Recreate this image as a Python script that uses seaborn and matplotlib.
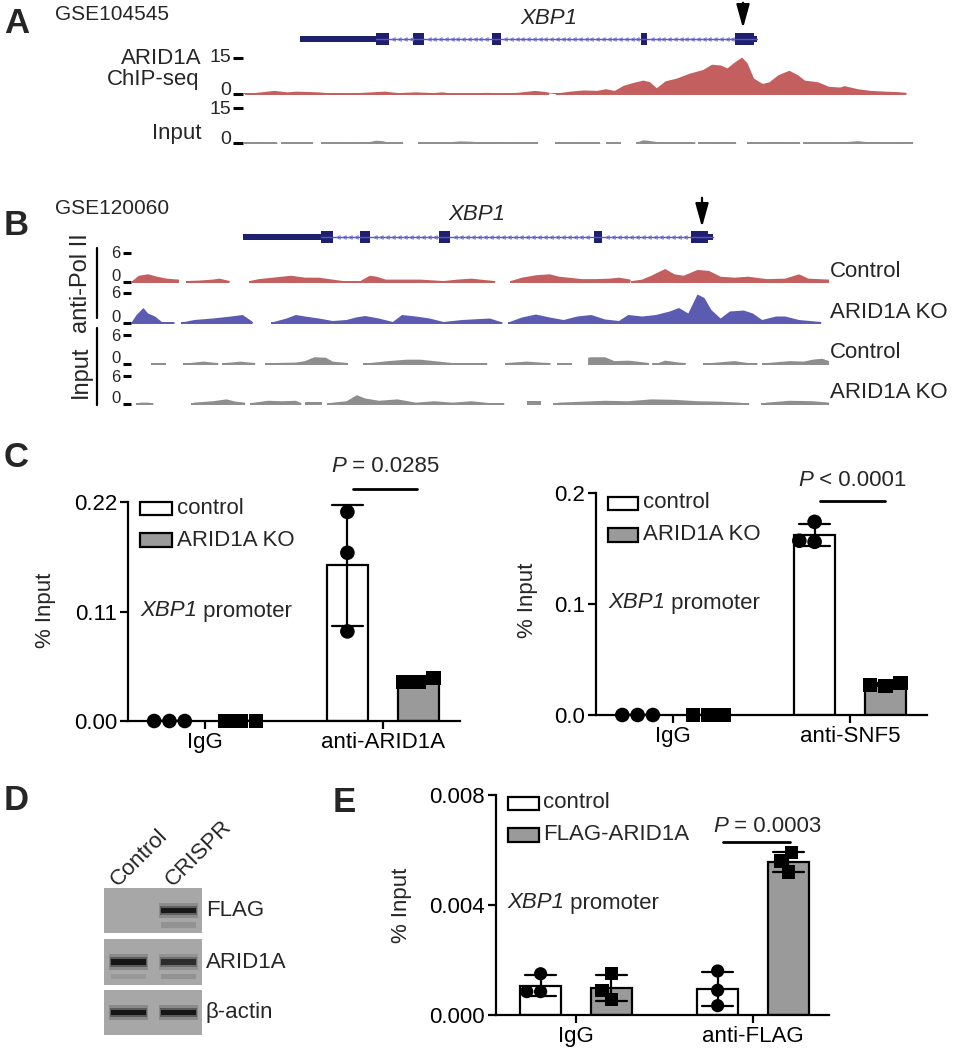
import numpy as np
import pandas as pd
import matplotlib
matplotlib.use("Agg")
import matplotlib.pyplot as plt
from matplotlib.patches import Rectangle, FancyArrowPatch
from matplotlib.lines import Line2D
import seaborn as sns

# ---------------- data ----------------
# Panel A (GSE104545): coverage segments (position along locus window, signal)
chip_a_segments = [
    ([35,60,100,130,150,200,230,260,300,350,380,420,460,480,500,540,580,620,650,690,715,722],
     [0,0.7,1.5,0.9,1.2,0.9,0.4,0.4,0.7,1.2,0.6,0.9,0.6,0.9,0.4,0.3,0.7,0.4,0.7,1.5,1.0,0.7]),
    ([737,770,800,830,850,870,890,910,935,950,965,985,1010,1040,1070,1090,1110,1125,1140,1158,
      1170,1185,1205,1220,1240,1265,1285,1300,1330,1355,1380,1390,1420,1450,1480,1510,1530],
     [0.4,1.2,1.7,1.5,2.2,1.5,3.6,4.7,5.8,5.1,2.6,5.5,6.6,8.7,10.2,12.4,12.1,10.9,13.1,15.4,
      13.1,6.6,4.4,5.1,8.0,9.9,8.0,5.8,5.1,3.2,2.9,3.5,2.2,1.5,1.2,1.0,0.7]),
]
chip_a_gap_marks = [35, 235, 507, 737]
input_a_segments = [
    ([32,60,75,90,108], [0.2,0.3,0.6,0.3,0.2]),
    ([117,140,160,175,188], [0.2,0.3,0.5,0.3,0.2]),
    ([207,260,270,280,315,330,345,360,392], [0.2,0.2,0.5,0.2,0.6,1.2,1.0,0.3,0.2]),
    ([425,455,470,500,520,540,560,600,640,697], [0.2,0.5,0.2,0.6,0.9,0.8,0.6,0.6,0.2,0.2]),
    ([735,760,780,810,838], [0.2,0.5,0.3,0.3,0.2]),
    ([852,886], [0.2,0.2]),
    ([918,935,945,970,1000,1053], [0.3,1.4,1.2,0.5,0.5,0.3]),
    ([1060,1090,1110,1145], [0.3,0.6,0.5,0.2]),
    ([1170,1210,1240,1255,1290], [0.2,0.4,0.6,0.4,0.2]),
    ([1298,1330,1380,1420,1440,1480,1520,1545], [0.2,0.3,0.4,1.0,0.6,0.3,0.6,0.3]),
]
gene_a_utr = (160, 330)
gene_a_exons = [(330, 360), (415, 440), (593, 613), (930, 945), (1143, 1185)]
gene_a_end = 1193

# Panel B (GSE120060)
pol2_ctrl_segments = [
    ([25,40,60,80,100,127], [0.2,1.4,1.7,1.2,0.8,0.6]),
    ([143,170,200,215,237], [0.3,0.4,0.6,0.8,0.3]),
    ([280,300,330,350,370,400,430,460,490,520,540,555,575,600,650,700,730,760,780,812],
     [0.3,0.7,1.0,1.2,1.4,1.0,1.0,0.6,0.2,0.3,1.4,1.2,0.6,0.6,0.6,0.3,0.6,0.8,0.6,0.3]),
    ([845,870,900,930,950,970,1000,1030,1060,1080,1105], [0.3,1.0,1.5,1.7,1.2,1.0,0.7,0.7,0.8,1.0,0.6]),
    ([1108,1130,1150,1180,1200,1220,1250,1275,1300,1330,1360,1400,1440,1470,1490,1535],
     [0.3,0.6,1.4,2.8,1.7,1.4,2.6,2.4,1.2,1.0,1.2,0.7,0.8,1.7,0.8,0.6]),
]
pol2_ko_segments = [
    ([25,35,50,60,75,90,118], [0.3,1.7,3.1,2.0,1.4,0.3,0.2]),
    ([133,160,200,240,265,287], [0.2,0.7,1.0,1.4,1.7,0.3]),
    ([328,360,380,400,430,460,490,510,530,560,590,610,640,670,700,740,760,800,828],
     [0.2,1.0,1.7,1.4,1.0,0.5,0.7,1.2,1.5,1.0,0.3,1.7,1.4,1.0,0.3,0.7,0.8,1.0,0.2]),
    ([840,870,900,930,960,990,1020,1050,1080,1100,1130,1160,1190,1210,1230,1250,1265,1280,1300,
      1320,1350,1370,1390,1420,1440,1470,1518],
     [0.2,1.2,1.8,1.2,0.7,1.4,1.7,0.8,0.5,1.7,1.4,1.7,2.4,3.1,2.0,5.8,5.1,2.7,1.0,
      2.4,2.6,2.0,0.7,1.4,1.4,0.7,0.3]),
]
input_ctrl_segments = [
    ([68,100], [0.3,0.3]),
    ([137,150,180,200,212], [0.2,0.3,0.6,0.4,0.3]),
    ([222,240,260,280,292], [0.3,0.4,0.6,0.4,0.3]),
    ([314,330,380,400,420,445,460,493], [0.2,0.3,0.4,0.7,1.5,1.4,0.6,0.3]),
    ([527,540,580,620,650,680,720,760,795], [0.2,0.3,0.7,1.0,1.0,0.7,0.3,0.3,0.2]),
    ([833,850,880,910,932], [0.3,0.4,0.6,0.4,0.3]),
    ([947,980], [0.2,0.2]),
    ([1013,1020,1050,1070,1100,1120,1145], [1.4,1.5,1.5,0.7,0.8,0.6,0.3]),
    ([1153,1165,1180,1210,1225], [0.3,0.3,0.8,0.4,0.3]),
    ([1262,1280,1330,1360,1380], [0.2,0.3,0.7,0.3,0.3]),
    ([1390,1400,1450,1480,1500,1520,1535], [0.2,0.3,0.7,0.6,1.0,1.2,0.7]),
]
input_ko_segments = [
    ([35,45,60,72], [0.2,0.4,0.4,0.2]),
    ([155,160,200,230,250,270], [0.2,0.4,0.7,1.1,0.6,0.4]),
    ([282,290,320,350,380,392], [0.3,0.4,0.8,0.7,0.8,0.3]),
    ([400,438], [0.4,0.4]),
    ([448,460,490,512,530,560,600,640,680,720,760,800,832],
     [0.2,0.4,0.7,2.0,1.3,0.8,1.1,0.4,0.7,0.4,0.7,0.3,0.2]),
    ([882,913], [0.6,0.6]),
    ([938,950,1000,1050,1100,1150,1200,1250,1300,1340,1362],
     [0.2,0.4,0.6,0.8,0.7,1.1,1.0,0.7,0.6,0.4,0.2]),
    ([1388,1400,1450,1500,1535], [0.2,0.4,0.8,0.7,0.4]),
]
gene_b_utr = (266, 435)
gene_b_exons = [(435, 462), (520, 542), (691, 715), (1027, 1044), (1237, 1274)]
gene_b_end = 1285

# Panel C left
c1_targets = ["IgG", "anti-ARID1A"]
c1_groups = ["control", "ARID1A KO"]
c1_control = [[0.0, 0.0, 0.0], [0.210, 0.169, 0.090]]
c1_ko = [[0.0, 0.0, 0.0], [0.039, 0.043, 0.039]]
# Panel C right
c2_targets = ["IgG", "anti-SNF5"]
c2_groups = ["control", "ARID1A KO"]
c2_control = [[0.0, 0.0, 0.0], [0.156, 0.174, 0.157]]
c2_ko = [[0.0, 0.0, 0.0], [0.026, 0.029, 0.027]]
# Panel E
e_targets = ["IgG", "anti-FLAG"]
e_groups = ["control", "FLAG-ARID1A"]
e_control = [[0.0015, 0.00085, 0.00085], [0.0016, 0.0009, 0.00034]]
e_flag = [[0.0015, 0.0009, 0.00055], [0.0059, 0.0056, 0.0052]]

# Panel D western blot (band intensity per lane: Control, CRISPR)
blot_rows = ["FLAG", "ARID1A", "β-actin"]
blot_lanes = ["Control", "CRISPR"]
blot_main = [[0.0, 0.9], [0.95, 0.7], [0.95, 0.95]]
blot_faint = [[0.0, 0.12], [0.08, 0.12], [0.0, 0.0]]

# ---------------- style ----------------
W, H = 954, 1050
sns.set_theme(style="ticks")
plt.rcParams["font.family"] = ["Liberation Sans", "DejaVu Sans"]

RED = "#c45f5f"
BLUE = "#5b5bb2"
GRAY = "#8e8e8e"
NAVY = "#1f1f70"
BARGRAY = "#9a9a9a"
FS = 16

fig = plt.figure(figsize=(W / 100, H / 100), dpi=100)
renderer = fig.canvas.get_renderer()


def add_ax(x0, y0, x1, y1):
    return fig.add_axes([x0 / W, 1 - y1 / H, (x1 - x0) / W, (y1 - y0) / H])


def ftext(x, y, s, **kw):
    kw.setdefault("fontsize", FS)
    return fig.text(x / W, 1 - y / H, s, **kw)


def ital_text(x, y, it, rest, ha="left", **kw):
    """Italic word followed by upright text, as one visual label."""
    t1 = ftext(x, y, it, style="italic", va="center", **kw)
    w1 = t1.get_window_extent(renderer).width
    t2 = ftext(x + w1, y, rest, va="center", **kw)
    if ha == "center":
        w2 = t2.get_window_extent(renderer).width
        shift = (w1 + w2) / 2
        t1.set_x((x - shift) / W)
        t2.set_x((x - shift + w1) / W)
    return t1, t2


def fline(x0, y0, x1, y1, lw=2.0, color="black"):
    fig.add_artist(Line2D([x0 / W, x1 / W], [1 - y0 / H, 1 - y1 / H],
                          transform=fig.transFigure, color=color, lw=lw))


def fbox(x0, y0, x1, y1, fc):
    fig.add_artist(Rectangle((x0 / W, 1 - y1 / H), (x1 - x0) / W, (y1 - y0) / H,
                             transform=fig.transFigure, facecolor=fc,
                             edgecolor="black", linewidth=1.6))


def farrow(x, y0, y1):
    fig.add_artist(FancyArrowPatch((x / W, 1 - y0 / H), (x / W, 1 - y1 / H),
                                   transform=fig.transFigure,
                                   arrowstyle="-|>,head_length=0.9,head_width=0.25",
                                   mutation_scale=16, color="black", lw=1.6))


def draw_gene(ax, utr, exons, end, xlim):
    ax.set_xlim(*xlim)
    ax.set_ylim(-1, 1)
    ax.axis("off")
    ax.plot([utr[1], end], [0, 0], color="#5555c0", lw=1.0)
    for (a, b), (c, d) in zip(exons[:-1], exons[1:]):
        xs = np.arange(b + 10, c - 4, 13)
        ax.plot(xs, np.zeros_like(xs), ls="none", marker="<", ms=2.6,
                mfc="none", mec="#6b6bd0", mew=0.6)
    ax.add_patch(Rectangle((utr[0], -0.28), utr[1] - utr[0], 0.56, color=NAVY, lw=0))
    for a, b in exons:
        ax.add_patch(Rectangle((a, -0.55), b - a, 1.1, color=NAVY, lw=0))
    ax.add_patch(Rectangle((exons[-1][1], -0.28), end - exons[-1][1], 0.56, color=NAVY, lw=0))


def draw_track(ax, px_box, segments, color, ymax, xlim, labelsize, ticklen, top_dy, zero_dy):
    x0, yt, x1, yb = px_box
    for xs, ys in segments:
        ax.fill_between(xs, 0, ys, color=color, lw=0, clip_on=False)
        ax.plot([xs[0], xs[-1]], [0, 0], color=color, lw=1.4, clip_on=False,
                solid_capstyle="butt")
    ax.set_xlim(*xlim)
    ax.set_ylim(0, ymax)
    ax.set_yticks([0, ymax])
    ax.set_yticklabels([])
    ax.tick_params(axis="y", length=ticklen, width=2.2, colors="black", left=True)
    ax.set_xticks([])
    for s in ax.spines.values():
        s.set_visible(False)
    ax.patch.set_alpha(0)
    lx = x0 - ticklen * 100 / 72 - 2
    ftext(lx, yt + top_dy, str(ymax), ha="right", va="center", fontsize=labelsize)
    ftext(lx, yb + zero_dy, "0", ha="right", va="baseline", fontsize=labelsize)


# ---------------- Panel A ----------------
ftext(4, 33, "A", fontsize=25, weight="bold", va="baseline")
ftext(55, 14, "GSE104545", va="center", fontsize=15)
ftext(549, 18, "XBP1", style="italic", ha="center", va="center")
farrow(743, 0, 31)
xl_a = (30, 1548)
gax = add_ax(243, 28, 914, 50)
draw_gene(gax, gene_a_utr, gene_a_exons, gene_a_end, xl_a)

ax_chip = add_ax(243, 58, 914, 94)
ax_chip.plot([35, 1530], [0, 0], color="#e08a8a", lw=1.2)
for m in chip_a_gap_marks:
    ax_chip.plot([m - 5, m + 5], [0, 0], color="#d030c0", lw=2.0)
draw_track(ax_chip, (243, 58, 914, 94), chip_a_segments, RED, 15, xl_a, 14, 7, 0, 1)
ax_inp = add_ax(243, 108, 914, 143)
draw_track(ax_inp, (243, 108, 914, 143), input_a_segments, GRAY, 15, xl_a, 14, 7, 2, 1)
ftext(202, 58, "ARID1A", ha="right", va="center")
ftext(199, 79, "ChIP-seq", ha="right", va="center")
ftext(202, 134, "Input", ha="right", va="center")

# ---------------- Panel B ----------------
ftext(4, 235, "B", fontsize=25, weight="bold", va="baseline")
ftext(55, 209, "GSE120060", va="center", fontsize=15)
ftext(477, 215, "XBP1", style="italic", ha="center", va="center")
farrow(702, 195, 230)
xl_b = (24, 1538)
gbx = add_ax(131, 226, 830, 248)
draw_gene(gbx, gene_b_utr, gene_b_exons, gene_b_end, xl_b)

b_tracks = [(pol2_ctrl_segments, RED, 253, 282, "Control"),
            (pol2_ko_segments, BLUE, 293, 323, "ARID1A KO"),
            (input_ctrl_segments, GRAY, 335, 364, "Control"),
            (input_ko_segments, GRAY, 376, 404, "ARID1A KO")]
for segs, col, yt, yb, lab in b_tracks:
    axb = add_ax(131, yt, 830, yb)
    draw_track(axb, (131, yt, 830, yb), segs, col, 6, xl_b, 12, 6, 1, -1)
    ftext(830, yb - 11, lab, ha="left", va="center")
ftext(81, 283, "anti-Pol II", rotation=90, ha="center", va="center", fontsize=17)
ftext(81, 372, "Input", rotation=90, ha="center", va="center", fontsize=17)
fline(97, 248, 97, 318, lw=1.6)
fline(97, 328, 97, 405, lw=1.6)


# ---------------- bar panels ----------------
def make_df(targets, groups, ctrl, treat):
    rows = []
    for i, t in enumerate(targets):
        for v in ctrl[i]:
            rows.append((t, groups[0], v))
        for v in treat[i]:
            rows.append((t, groups[1], v))
    return pd.DataFrame(rows, columns=["target", "group", "value"])


def bar_panel(ax, df, targets, groups, msize, ylim, yticks, yticklabels, xlim):
    pal = {groups[0]: "white", groups[1]: BARGRAY}
    sns.barplot(data=df, x="target", y="value", hue="group", order=targets,
                hue_order=groups, palette=pal, errorbar="sd", capsize=0.35,
                width=0.8, gap=0.42, edgecolor="black", linewidth=1.6,
                err_kws={"color": "black", "linewidth": 1.6}, legend=False, ax=ax)
    for g, mk in zip(groups, ["o", "s"]):
        sub = df[df["group"] == g]
        sns.swarmplot(data=sub, x="target", y="value", hue="group", order=targets,
                      hue_order=groups, dodge=True, palette={h: "black" for h in groups},
                      marker=mk, size=msize, linewidth=0, legend=False, ax=ax, zorder=4,
                      clip_on=False)
    ax.set_xlim(*xlim)
    ax.set_ylim(*ylim)
    ax.set_yticks(yticks)
    ax.set_yticklabels(yticklabels)
    ax.set_xlabel("")
    ax.set_ylabel("")
    sns.despine(ax=ax)
    for s in ["left", "bottom"]:
        ax.spines[s].set_linewidth(1.6)
        ax.spines[s].set_color("black")
    ax.tick_params(axis="both", length=6, width=1.6, colors="black", labelsize=FS)
    ax.tick_params(axis="x", pad=2)
    ax.tick_params(axis="y", pad=2)
    ax.patch.set_alpha(0)


# C left
ftext(4, 467, "C", fontsize=25, weight="bold", va="baseline")
axc1 = add_ax(128, 502, 460, 721)
bar_panel(axc1, make_df(c1_targets, c1_groups, c1_control, c1_ko), c1_targets, c1_groups,
          10.5, (0, 0.22), [0, 0.11, 0.22], ["0.00", "0.11", "0.22"], (-0.433, 1.433))
fbox(140, 502, 172, 515, "white")
fbox(140, 533, 172, 547, BARGRAY)
ftext(177, 508, c1_groups[0], va="center")
ftext(177, 540, c1_groups[1], va="center")
ital_text(140, 611, "XBP1", " promoter")
ital_text(385, 467, "P", " = 0.0285", ha="center")
fline(353, 489, 417, 489)
ftext(45, 610, "% Input", rotation=90, ha="center", va="center")

# C right
axc2 = add_ax(596, 493, 927, 715)
bar_panel(axc2, make_df(c2_targets, c2_groups, c2_control, c2_ko), c2_targets, c2_groups,
          10.5, (0, 0.2), [0, 0.1, 0.2], ["0.0", "0.1", "0.2"], (-0.435, 1.435))
fbox(608, 497, 638, 510, "white")
fbox(608, 528, 638, 542, BARGRAY)
ftext(643, 503, c2_groups[0], va="center")
ftext(643, 535, c2_groups[1], va="center")
ital_text(608, 603, "XBP1", " promoter")
ital_text(852, 481, "P", " < 0.0001", ha="center")
fline(820, 501, 885, 501)
ftext(527, 600, "% Input", rotation=90, ha="center", va="center")

# E
ftext(333, 812, "E", fontsize=25, weight="bold", va="baseline")
axe = add_ax(496, 795, 829, 1015)
bar_panel(axe, make_df(e_targets, e_groups, e_control, e_flag), e_targets, e_groups,
          9.5, (0, 0.008), [0, 0.004, 0.008], ["0.000", "0.004", "0.008"], (-0.452, 1.429))
fbox(508, 797, 539, 810, "white")
fbox(508, 828, 539, 842, BARGRAY)
ftext(543, 803, e_groups[0], va="center")
ftext(543, 835, e_groups[1], va="center")
ital_text(507, 903, "XBP1", " promoter")
ital_text(767, 826, "P", " = 0.0003", ha="center")
fline(723, 842, 790, 842)
ftext(402, 905, "% Input", rotation=90, ha="center", va="center")

# ---------------- Panel D: western blot ----------------
ftext(4, 810, "D", fontsize=25, weight="bold", va="baseline")
blot_boxes = [(888, 933), (939, 985), (990, 1035)]
lane_centers = [0.25, 0.76]
for r, (yt, yb) in enumerate(blot_boxes):
    axw = add_ax(104, yt, 202, yb)
    axw.set_facecolor("#a7a7a7")
    axw.set_xlim(0, 1)
    axw.set_ylim(0, 1)
    axw.set_xticks([])
    axw.set_yticks([])
    for s in axw.spines.values():
        s.set_visible(False)
    for c, inten, faint in zip(lane_centers, blot_main[r], blot_faint[r]):
        if inten > 0:
            axw.barh(0.5, 0.40, left=c - 0.20, height=0.34, color="black",
                     alpha=0.18 * inten, lw=0)
            axw.barh(0.5, 0.38, left=c - 0.19, height=0.22, color="black",
                     alpha=0.35 * inten, lw=0)
            axw.barh(0.5, 0.35, left=c - 0.175, height=0.12, color="#111111",
                     alpha=inten, lw=0)
        if faint > 0:
            axw.barh(0.18, 0.36, left=c - 0.18, height=0.12, color="black",
                     alpha=faint, lw=0)
    ftext(206, (yt + yb) / 2, blot_rows[r], ha="left", va="center", fontsize=16)
ftext(118, 887, blot_lanes[0], rotation=45, ha="left", va="baseline",
      rotation_mode="anchor", fontsize=16)
ftext(173, 887, blot_lanes[1], rotation=45, ha="left", va="baseline",
      rotation_mode="anchor", fontsize=16)

fig.savefig("out.png", dpi=100, facecolor="white")
